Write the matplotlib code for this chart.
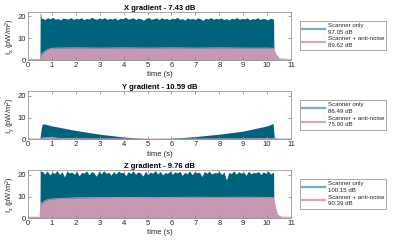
import numpy as np
import matplotlib
matplotlib.use('Agg')
import matplotlib.pyplot as plt
from matplotlib.lines import Line2D

plt.rcParams['font.family'] = ['Liberation Sans', 'DejaVu Sans']
plt.rcParams['mathtext.fontset'] = 'custom'
plt.rcParams['mathtext.rm'] = 'Liberation Sans'
plt.rcParams['mathtext.it'] = 'Liberation Sans'

# ---------------------------------------------------------------------------
# Data (intensity envelopes, pW/m^2)
# ---------------------------------------------------------------------------
titles = ['X gradient - 7.43 dB', 'Y gradient - 10.59 dB', 'Z gradient - 9.76 dB']
ylabels = [r'I$_x$ (pW/m$^2$)', r'I$_y$ (pW/m$^2$)', r'I$_z$ (pW/m$^2$)']
scan_db = ['97.05 dB', '86.49 dB', '100.15 dB']
anti_db = ['89.62 dB', '75.90 dB', '90.39 dB']

# X gradient, scanner only: noisy plateau between 0.6 s and 10.25 s
x_scan_body = [19.2, 18.6, 19.4, 18.9, 19.6, 18.7, 19.1, 18.4, 19.3, 19.0, 18.8, 19.5,
               18.6, 19.2, 18.9, 19.4, 18.5, 19.1, 18.8, 19.6, 19.0, 18.7, 19.3, 18.9,
               19.5, 18.6, 19.1, 18.8, 19.3, 18.4, 19.2, 18.9, 19.7, 18.8, 19.0, 19.4,
               18.6, 19.2, 18.9, 18.3, 19.1, 19.5, 18.7, 19.0, 19.3, 18.6, 19.4, 18.8,
               19.1, 18.5, 19.2, 18.9, 19.6, 18.7, 19.0, 18.4, 19.3, 18.8, 19.1, 18.6,
               19.4, 18.9, 18.2, 19.2, 18.8, 19.5, 18.7, 19.1, 18.9, 19.3, 18.6, 19.0,
               18.4, 19.2, 18.8, 19.5, 18.7, 19.1, 18.9, 19.3, 18.5, 19.0, 18.8, 19.4,
               18.6, 19.1, 18.9, 18.5, 19.2, 18.8]
x_scan_head_t = [0.0, 0.5, 0.51, 0.53, 0.56]
x_scan_head_v = [0.3, 0.3, 22.0, 21.0, 19.0]
x_scan_tail_t = [10.27, 10.29, 11.0]
x_scan_tail_v = [18.8, 0.0, 0.0]

# X gradient, scanner + anti-noise
x_anti_t = [0.0, 0.5, 0.54, 0.6, 0.7, 0.8, 0.9, 1.0, 1.2, 2.0, 3.0, 4.0, 5.0, 6.0,
            7.0, 8.0, 9.0, 10.0, 10.27, 10.35, 10.5, 11.0]
x_anti_v = [0.3, 0.3, 2.3, 3.0, 4.0, 4.7, 5.1, 5.4, 5.5, 5.6, 5.5, 5.6, 5.5, 5.6,
            5.5, 5.6, 5.5, 5.5, 5.4, 3.0, 0.6, 0.3]

# Y gradient, scanner only
y_scan_t = [0.0, 0.5, 0.52, 0.58, 0.65, 1.0, 2.0, 3.0, 4.0, 5.0, 5.3, 6.0, 7.0,
            8.0, 9.0, 10.0, 10.25, 10.3, 10.4, 11.0]
y_scan_v = [0.0, 0.0, 2.5, 6.6, 7.2, 6.2, 4.1, 2.4, 1.1, 0.3, 0.1, 0.5, 1.3,
            2.4, 3.8, 6.2, 7.3, 1.0, 0.2, 0.1]

# Y gradient, scanner + anti-noise
y_anti_t = [0.0, 0.5, 0.6, 0.8, 1.1, 1.4, 3.0, 6.0, 9.0, 10.3, 10.5, 11.0]
y_anti_v = [0.2, 0.2, 0.7, 0.9, 0.8, 0.4, 0.3, 0.2, 0.3, 0.4, 0.2, 0.2]

# Z gradient, scanner only
z_scan_body = [21.5, 20.3, 21.8, 19.9, 21.2, 20.6, 21.9, 20.1, 21.4, 19.0, 21.7, 20.8,
               21.3, 20.2, 21.6, 19.5, 21.1, 20.7, 21.8, 20.0, 21.4, 20.9, 19.3, 21.6,
               20.4, 21.9, 20.6, 21.2, 19.8, 21.5, 20.3, 21.7, 20.9, 21.1, 19.6, 21.4,
               20.5, 21.8, 20.2, 21.3, 20.8, 19.4, 21.6, 20.1, 21.2, 20.7, 21.9, 20.3,
               21.5, 19.9, 21.0, 20.6, 21.7, 20.2, 21.3, 20.8, 21.6, 19.7, 21.1, 20.4,
               21.8, 20.0, 21.4, 20.9, 21.2, 19.2, 21.5, 20.6, 21.7, 20.3, 21.0, 20.8,
               21.6, 20.1, 21.3, 17.6, 21.1, 20.5, 21.8, 20.2, 21.4, 20.7, 21.2, 19.8,
               21.6, 20.4, 21.0, 20.9, 21.5, 20.1, 21.3, 20.6, 21.7, 20.3, 21.1]
z_scan_head_t = [0.0, 0.5, 0.51, 0.56]
z_scan_head_v = [0.5, 0.5, 22.0, 21.5]
z_scan_tail_t = [10.27, 10.29, 11.0]
z_scan_tail_v = [21.0, 0.0, 0.0]

# Z gradient, scanner + anti-noise
z_anti_t = [0.0, 0.5, 0.53, 0.58, 0.63, 0.7, 0.8, 1.0, 1.5, 2.0, 3.0, 4.0, 5.0,
            6.0, 7.0, 8.0, 9.0, 10.0, 10.25, 10.3, 10.36, 10.45, 10.6, 11.0]
z_anti_v = [0.5, 0.5, 7.5, 6.3, 7.4, 8.0, 8.5, 8.9, 9.2, 9.4, 9.5, 9.6, 9.5,
            9.6, 9.7, 9.6, 9.7, 9.6, 9.6, 8.0, 4.5, 1.5, 0.6, 0.5]

# ---------------------------------------------------------------------------
def build_series(head_t, head_v, body, tail_t, tail_v):
    t_body = np.linspace(0.6, 10.25, len(body))
    t = np.concatenate([head_t, t_body, tail_t])
    v = np.concatenate([head_v, body, tail_v])
    return t, v

scan = [
    build_series(x_scan_head_t, x_scan_head_v, x_scan_body, x_scan_tail_t, x_scan_tail_v),
    (np.array(y_scan_t), np.array(y_scan_v)),
    build_series(z_scan_head_t, z_scan_head_v, z_scan_body, z_scan_tail_t, z_scan_tail_v),
]
anti = [
    (np.array(x_anti_t), np.array(x_anti_v)),
    (np.array(y_anti_t), np.array(y_anti_v)),
    (np.array(z_anti_t), np.array(z_anti_v)),
]

teal = '#00637c'
pink = '#c898b3'
teal_leg = '#72b2c2'
pink_leg = '#d9a4c0'
grey = '#262626'

fig = plt.figure(figsize=(4, 2.42), dpi=100)
bottoms = [0.752, 0.424, 0.098]

for i in range(3):
    ax = fig.add_axes([0.07, bottoms[i], 0.6575, 0.198])
    ts, vs = scan[i]
    ta, va = anti[i]
    ax.fill_between(ts, 0, vs, color=teal, linewidth=0)
    ax.fill_between(ta, 0, va, color=pink, linewidth=0)
    ax.plot(ta, va, color=pink, linewidth=0.6)

    ax.set_xlim(0, 11)
    ax.set_ylim(0, 22)
    ax.set_xticks(range(0, 12))
    ax.set_yticks([0, 10, 20])
    ax.tick_params(direction='in', length=2, width=0.5, labelsize=5.5, colors='#808080',
                   labelcolor=grey, top=True, right=True, pad=1.5)
    for s in ax.spines.values():
        s.set_color('#9a9a9a')
        s.set_linewidth(0.6)
    ax.set_title(titles[i], fontsize=5.5, fontweight='bold', color='black', pad=1.5)
    ax.set_xlabel('time (s)', fontsize=5.5, color=grey, labelpad=1.5)
    ax.set_ylabel(ylabels[i], fontsize=5.5, color=grey, labelpad=0.5)

    handles = [Line2D([0], [0], color=teal_leg, linewidth=1.6),
               Line2D([0], [0], color=pink_leg, linewidth=1.6)]
    labels = ['Scanner only\n' + scan_db[i], 'Scanner + anti-noise\n' + anti_db[i]]
    leg = ax.legend(handles, labels, loc='center left', bbox_to_anchor=(1.034, 0.51),
                    fontsize=4.4, frameon=True, fancybox=False, handlelength=3.8,
                    handletextpad=0.4, borderpad=0.35, labelspacing=0.3,
                    borderaxespad=0)
    leg.get_frame().set_edgecolor('#808080')
    leg.get_frame().set_linewidth(0.6)
    for txt in leg.get_texts():
        txt.set_color(grey)
        txt.set_linespacing(1.4)

fig.savefig('out.png', dpi=100)
